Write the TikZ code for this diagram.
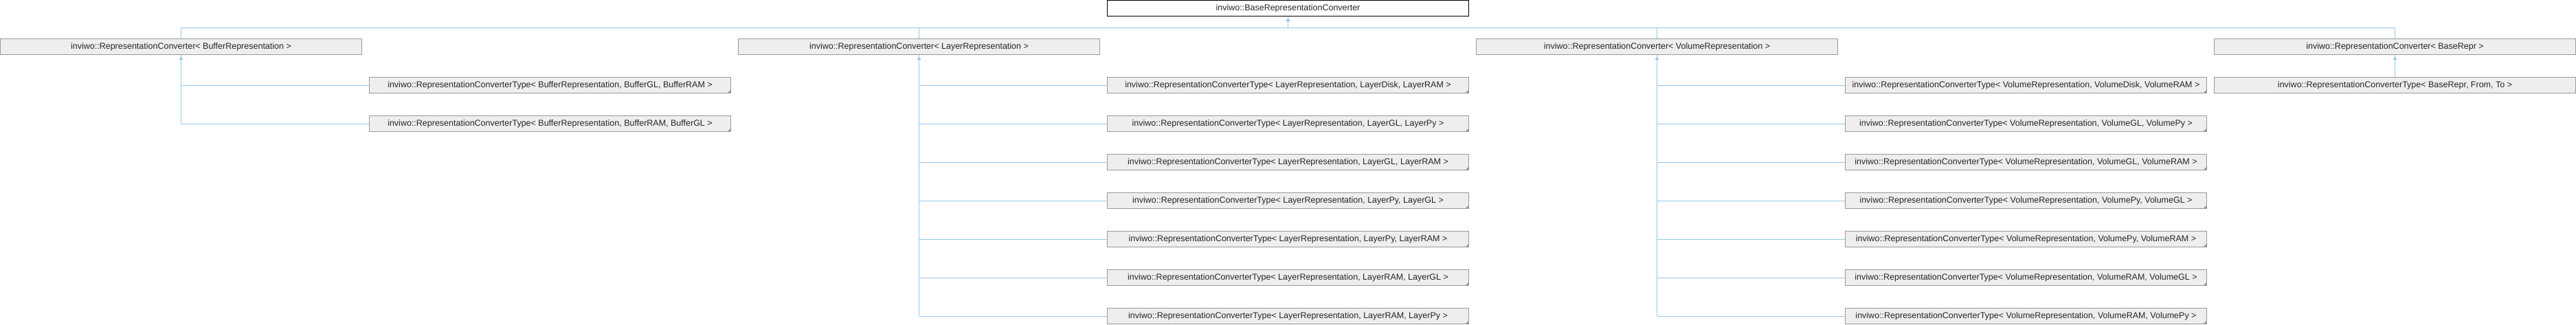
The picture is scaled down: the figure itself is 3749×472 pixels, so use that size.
\documentclass[tikz,border=0pt]{standalone}
\usepackage{fontspec}
\setmainfont{Liberation Sans}
\usetikzlibrary{calc}
\definecolor{edgecol}{RGB}{148,200,234}
\definecolor{boxfill}{RGB}{238,238,238}
\definecolor{boxline}{RGB}{153,153,153}
\definecolor{cornercol}{RGB}{150,150,150}
\tikzset{
  cls/.style={draw=boxline, fill=boxfill, line width=1pt, minimum width=526pt, minimum height=23pt,
    inner sep=0pt, font=\fontsize{12.5}{14}\selectfont, text=black!85},
  topcls/.style={cls, draw=black, fill=white},
  tmpl/.style={cls, path picture={\fill[cornercol] (path picture bounding box.south east) -- ++(-5,0) -- ++(5,-5) -- cycle;}},
  edge/.style={draw=edgecol, line width=1pt},
}
\newcommand{\uparrowtip}[1]{\fill[edgecol] ($(#1.south)+(0,2)$) -- ++(-3,5) -- ++(6,0) -- cycle;}
\begin{document}
\begin{tikzpicture}[x=1pt,y=-1pt]
\useasboundingbox (0,0) rectangle (3749,472);
% top
\node[topcls] (top) at (1874.5,12) {inviwo::BaseRepresentationConverter};
% level 2
\node[cls] (buf) at (263.5,68) {inviwo::RepresentationConverter< BufferRepresentation >};
\node[cls] (lay) at (1337.5,68) {inviwo::RepresentationConverter< LayerRepresentation >};
\node[cls] (vol) at (2411.5,68) {inviwo::RepresentationConverter< VolumeRepresentation >};
\node[cls] (base) at (3485.5,68) {inviwo::RepresentationConverter< BaseRepr >};
% buffer children
\node[tmpl] (b1) at (800.5,124) {inviwo::RepresentationConverterType< BufferRepresentation, BufferGL, BufferRAM >};
\node[tmpl] (b2) at (800.5,180) {inviwo::RepresentationConverterType< BufferRepresentation, BufferRAM, BufferGL >};
% layer children
\node[tmpl] (l1) at (1874.5,124) {inviwo::RepresentationConverterType< LayerRepresentation, LayerDisk, LayerRAM >};
\node[tmpl] (l2) at (1874.5,180) {inviwo::RepresentationConverterType< LayerRepresentation, LayerGL, LayerPy >};
\node[tmpl] (l3) at (1874.5,236) {inviwo::RepresentationConverterType< LayerRepresentation, LayerGL, LayerRAM >};
\node[tmpl] (l4) at (1874.5,292) {inviwo::RepresentationConverterType< LayerRepresentation, LayerPy, LayerGL >};
\node[tmpl] (l5) at (1874.5,348) {inviwo::RepresentationConverterType< LayerRepresentation, LayerPy, LayerRAM >};
\node[tmpl] (l6) at (1874.5,404) {inviwo::RepresentationConverterType< LayerRepresentation, LayerRAM, LayerGL >};
\node[tmpl] (l7) at (1874.5,460) {inviwo::RepresentationConverterType< LayerRepresentation, LayerRAM, LayerPy >};
% volume children
\node[tmpl] (v1) at (2948.5,124) {inviwo::RepresentationConverterType< VolumeRepresentation, VolumeDisk, VolumeRAM >};
\node[tmpl] (v2) at (2948.5,180) {inviwo::RepresentationConverterType< VolumeRepresentation, VolumeGL, VolumePy >};
\node[tmpl] (v3) at (2948.5,236) {inviwo::RepresentationConverterType< VolumeRepresentation, VolumeGL, VolumeRAM >};
\node[tmpl] (v4) at (2948.5,292) {inviwo::RepresentationConverterType< VolumeRepresentation, VolumePy, VolumeGL >};
\node[tmpl] (v5) at (2948.5,348) {inviwo::RepresentationConverterType< VolumeRepresentation, VolumePy, VolumeRAM >};
\node[tmpl] (v6) at (2948.5,404) {inviwo::RepresentationConverterType< VolumeRepresentation, VolumeRAM, VolumeGL >};
\node[tmpl] (v7) at (2948.5,460) {inviwo::RepresentationConverterType< VolumeRepresentation, VolumeRAM, VolumePy >};
% base child
\node[cls] (bc) at (3485.5,124) {inviwo::RepresentationConverterType< BaseRepr, From, To >};
% bus
\coordinate (bus) at (0,40.5);
\draw[edge] (top.south) -- (top.south |- bus);
\draw[edge] (buf.north) -- (buf.north |- bus) -- (base.north |- bus) -- (base.north);
\draw[edge] (lay.north) -- (lay.north |- bus);
\draw[edge] (vol.north) -- (vol.north |- bus);
\uparrowtip{top}
% buffer tree
\draw[edge] (buf.south) -- (buf.south |- b2.west);
\foreach \c in {b1,b2} {\draw[edge] (buf.south |- \c.west) -- (\c.west);}
\uparrowtip{buf}
% layer tree
\draw[edge] (lay.south) -- (lay.south |- l7.west);
\foreach \c in {l1,l2,l3,l4,l5,l6,l7} {\draw[edge] (lay.south |- \c.west) -- (\c.west);}
\uparrowtip{lay}
% volume tree
\draw[edge] (vol.south) -- (vol.south |- v7.west);
\foreach \c in {v1,v2,v3,v4,v5,v6,v7} {\draw[edge] (vol.south |- \c.west) -- (\c.west);}
\uparrowtip{vol}
% base
\draw[edge] (base.south) -- (bc.north);
\uparrowtip{base}
\end{tikzpicture}
\end{document}
